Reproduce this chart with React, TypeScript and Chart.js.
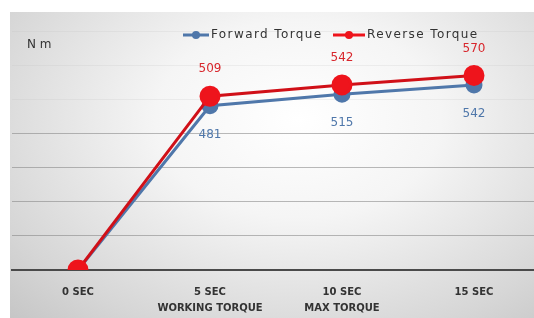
import React, { useEffect, useRef } from "react";
import { Chart, registerables } from "chart.js";

Chart.register(...registerables);

const categories: string[][] = [["0 SEC"], ["5 SEC", "WORKING TORQUE"], ["10 SEC", "MAX TORQUE"], ["15 SEC"]];
const forwardTorque = [0, 481, 515, 542];
const reverseTorque = [0, 509, 542, 570];
const forwardLabels = ["", "481", "515", "542"];
const reverseLabels = ["", "509", "542", "570"];
const seriesNames = ["Forward Torque", "Reverse Torque"];
const unitTitle = "N m";

const BLUE = "#4f77aa";
const RED = "#ee141c";
const RED_LINE = "#d01018";
const FONT = "'DejaVu Sans', 'Liberation Sans', Arial, sans-serif";

const overlayPlugin = {
  id: "overlay",
  afterDatasetsDraw(chart: any) {
    const ctx = chart.ctx as any;
    ctx.save();
    ctx.font = `12px ${FONT}`;
    ctx.fillStyle = "#333";
    ctx.textAlign = "left";
    ctx.textBaseline = "middle";
    ctx.fillText(unitTitle, 27, 45);

    const items = [
      { name: seriesNames[0], color: BLUE, x: 183, len: 26 },
      { name: seriesNames[1], color: RED, x: 333, len: 32 },
    ];
    const ly = 35;
    for (const it of items) {
      ctx.strokeStyle = it.color;
      ctx.lineWidth = 3;
      ctx.beginPath();
      ctx.moveTo(it.x, ly);
      ctx.lineTo(it.x + it.len, ly);
      ctx.stroke();
      ctx.fillStyle = it.color;
      ctx.beginPath();
      ctx.arc(it.x + it.len / 2, ly, 4, 0, Math.PI * 2);
      ctx.fill();
      ctx.fillStyle = "#333";
      ctx.font = `12px ${FONT}`;
      ctx.letterSpacing = "1.4px";
      ctx.textAlign = "left";
      ctx.fillText(it.name, it.x + it.len + 2, ly);
      ctx.letterSpacing = "0px";
    }

    ctx.textAlign = "center";
    ctx.font = `12px ${FONT}`;
    const metaR = chart.getDatasetMeta(0);
    const metaF = chart.getDatasetMeta(1);
    metaR.data.forEach((pt: any, i: number) => {
      if (!reverseLabels[i]) return;
      ctx.fillStyle = "#d8262c";
      ctx.fillText(reverseLabels[i], pt.x, pt.y - 27);
    });
    metaF.data.forEach((pt: any, i: number) => {
      if (!forwardLabels[i]) return;
      ctx.fillStyle = BLUE;
      ctx.fillText(forwardLabels[i], pt.x, pt.y + 29);
    });
    ctx.restore();
  },
};

export default function App() {
  const ref = useRef<HTMLCanvasElement>(null);
  useEffect(() => {
    if (!ref.current) return;
    const chart = new Chart(ref.current, {
      type: "line",
      data: {
        labels: categories,
        datasets: [
          {
            label: seriesNames[1],
            data: reverseTorque,
            borderColor: RED_LINE,
            backgroundColor: RED,
            pointBackgroundColor: RED,
            pointBorderColor: RED,
            borderWidth: 3,
            pointRadius: 9,
            order: 0,
          },
          {
            label: seriesNames[0],
            data: forwardTorque,
            borderColor: BLUE,
            backgroundColor: BLUE,
            pointBackgroundColor: BLUE,
            pointBorderColor: BLUE,
            borderWidth: 3,
            pointRadius: 7,
            order: 1,
          },
        ],
      },
      options: {
        animation: false,
        responsive: false,
        layout: { padding: { left: 12, right: 0, top: 31, bottom: 0 } },
        plugins: { legend: { display: false }, tooltip: { enabled: false } },
        scales: {
          x: {
            offset: true,
            grid: { display: false, offset: true },
            border: { color: "#4a4a4a", width: 2 },
            afterFit: (scale: any) => {
              scale.height = 48;
            },
            ticks: {
              color: "#333",
              font: { size: 10, weight: "bold", family: FONT, lineHeight: 1.6 },
              padding: 6,
              maxRotation: 0,
              autoSkip: false,
            },
          },
          y: {
            min: 0,
            max: 700,
            afterFit: (scale: any) => {
              scale.width = 0;
            },
            ticks: { display: false, stepSize: 100 },
            border: { display: false },
            grid: {
              drawTicks: false,
              color: (c: any) => (c.tick && c.tick.value > 400 ? "rgba(190,190,190,0.2)" : "rgba(130,130,130,0.55)"),
              lineWidth: 1,
            },
          },
        },
      },
      plugins: [overlayPlugin],
    });
    return () => chart.destroy();
  }, []);
  return (
    <div style={{ position: "absolute", left: 0, top: 0, width: 534, height: 318, overflow: "hidden" }}>
      <div
        style={{
          position: "absolute",
          left: 10,
          top: 12,
          width: 524,
          height: 306,
          background: "radial-gradient(ellipse at 55% 35%, #ffffff 0%, #f5f5f5 35%, #d6d6d6 80%, #c6c6c6 100%)",
        }}
      />
      <canvas
        ref={ref}
        width={552}
        height={318}
        style={{ display: "block", position: "absolute", left: 0, top: 0 }}
      />
    </div>
  );
}
